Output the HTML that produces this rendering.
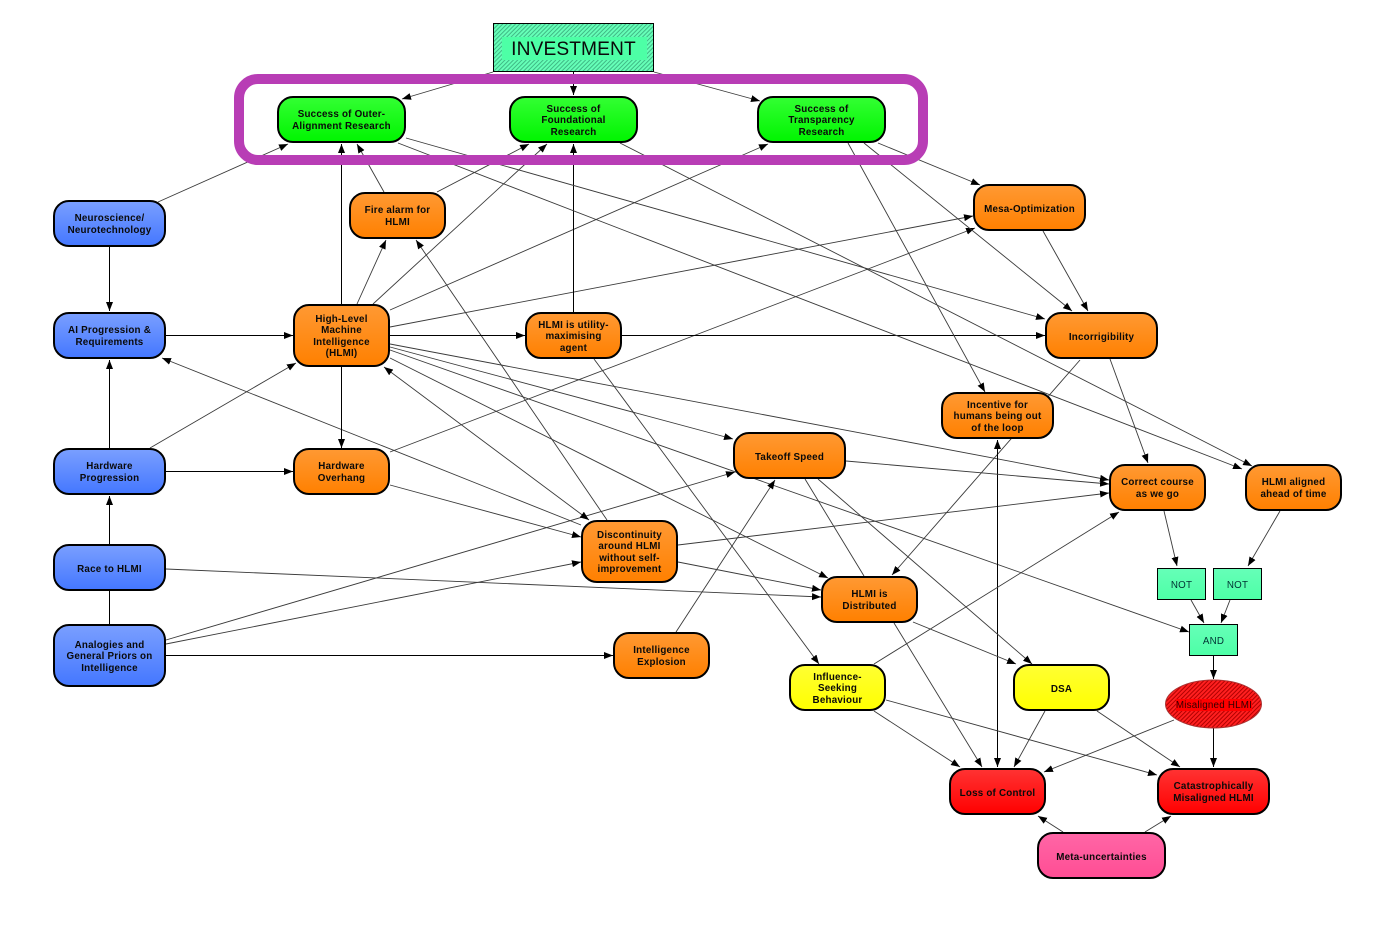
<!DOCTYPE html>
<html><head><meta charset="utf-8"><style>
html,body{margin:0;padding:0;background:#fff;width:1394px;height:925px;overflow:hidden}
svg{display:block}
text{font-family:"Liberation Sans",sans-serif;font-size:9.8px;font-weight:bold;letter-spacing:.22px;text-anchor:middle;fill:#0a0a0a}
.l line{stroke:#3a3a3a;stroke-width:.9;marker-end:url(#a)}
.o line{stroke:#000;stroke-width:1}
.n rect,.n ellipse{stroke:#000;stroke-width:2}
</style></head><body>
<svg width="1394" height="925" viewBox="0 0 1394 925" xmlns="http://www.w3.org/2000/svg">
<defs>
<marker id="a" markerUnits="userSpaceOnUse" markerWidth="11" markerHeight="9" refX="9" refY="4" orient="auto"><path d="M0 .5L9 4L0 7.5z" fill="#000"/></marker>
<marker id="s" markerUnits="userSpaceOnUse" markerWidth="11" markerHeight="9" refX="9" refY="4" orient="auto-start-reverse"><path d="M0 .5L9 4L0 7.5z" fill="#000"/></marker>
<linearGradient id="gb" x1="0" y1="0" x2="0" y2="1"><stop offset="0" stop-color="#7a9fff"/><stop offset="1" stop-color="#4477ff"/></linearGradient>
<linearGradient id="gg" x1="0" y1="0" x2="0" y2="1"><stop offset="0" stop-color="#33ff33"/><stop offset="1" stop-color="#00f500"/></linearGradient>
<linearGradient id="go" x1="0" y1="0" x2="0" y2="1"><stop offset="0" stop-color="#ff9933"/><stop offset="1" stop-color="#ff8000"/></linearGradient>
<linearGradient id="gy" x1="0" y1="0" x2="0" y2="1"><stop offset="0" stop-color="#ffff33"/><stop offset="1" stop-color="#ffff00"/></linearGradient>
<linearGradient id="gr" x1="0" y1="0" x2="0" y2="1"><stop offset="0" stop-color="#ff3333"/><stop offset="1" stop-color="#ff0000"/></linearGradient>
<linearGradient id="gp" x1="0" y1="0" x2="0" y2="1"><stop offset="0" stop-color="#ff66a6"/><stop offset="1" stop-color="#ff4d94"/></linearGradient>
<linearGradient id="gt" x1="0" y1="0" x2="0" y2="1"><stop offset="0" stop-color="#66ffb8"/><stop offset="1" stop-color="#4dffa6"/></linearGradient>
<pattern id="ht" width="3" height="3" patternUnits="userSpaceOnUse" patternTransform="rotate(45)"><rect width="3" height="3" fill="#66ffb8"/><rect width="1" height="3" fill="#3fb985"/></pattern>
<pattern id="hr" width="3" height="3" patternUnits="userSpaceOnUse" patternTransform="rotate(45)"><rect width="3" height="3" fill="#ff2020"/><rect width="1" height="3" fill="#b00000"/></pattern>
</defs>

<g class="l">
<line x1="493" y1="72" x2="402" y2="99"/>
<line class="k" x1="573.5" y1="72" x2="573.5" y2="95" style="stroke:#000;stroke-width:1"/>
<line x1="654" y1="72" x2="760" y2="101"/>
<line x1="158" y1="202" x2="288" y2="144"/>
<line x1="109.5" y1="247" x2="109.5" y2="311" style="stroke:#000;stroke-width:1"/>
<line x1="166" y1="335.5" x2="293" y2="335.5" style="stroke:#000;stroke-width:1"/>
<line x1="109.5" y1="448" x2="109.5" y2="360" style="stroke:#000;stroke-width:1"/>
<line x1="150" y1="448" x2="296" y2="363"/>
<line x1="166" y1="471.5" x2="293" y2="471.5" style="stroke:#000;stroke-width:1"/>
<line x1="109.5" y1="544" x2="109.5" y2="496" style="stroke:#000;stroke-width:1"/>
<line x1="109.5" y1="624" x2="109.5" y2="591" style="marker-end:none;stroke:#000;stroke-width:1"/>
<line x1="166" y1="569" x2="821" y2="597"/>
<line x1="166" y1="640" x2="735" y2="472"/>
<line x1="166" y1="644" x2="581" y2="562"/>
<line x1="166" y1="655.5" x2="613" y2="655.5" style="stroke:#000;stroke-width:1"/>
<line x1="581" y1="525" x2="162" y2="358"/>
<line x1="589" y1="520" x2="384" y2="367" style="marker-start:url(#s)"/>
<line x1="607" y1="520" x2="416" y2="240"/>
<line x1="678" y1="545" x2="1109" y2="493"/>
<line x1="678" y1="562" x2="821" y2="590"/>
<line x1="390" y1="485" x2="581" y2="537"/>
<line x1="390" y1="452" x2="975" y2="228"/>
<line x1="341.5" y1="304" x2="341.5" y2="144" style="stroke:#000;stroke-width:1"/>
<line x1="357" y1="304" x2="386" y2="240"/>
<line x1="373" y1="304" x2="547" y2="144"/>
<line x1="390" y1="310" x2="768" y2="144"/>
<line x1="390" y1="327" x2="973" y2="216"/>
<line x1="390" y1="335.5" x2="525" y2="335.5" style="stroke:#000;stroke-width:1"/>
<line x1="341.5" y1="367" x2="341.5" y2="448" style="stroke:#000;stroke-width:1"/>
<line x1="390" y1="347" x2="733" y2="439"/>
<line x1="390" y1="344" x2="1109" y2="480"/>
<line x1="390" y1="358" x2="828" y2="578"/>
<line x1="390" y1="350" x2="1189" y2="632"/>
<line x1="384" y1="192" x2="357" y2="144"/>
<line x1="437" y1="192" x2="529" y2="144"/>
<line x1="573.5" y1="312" x2="573.5" y2="144" style="stroke:#000;stroke-width:1"/>
<line x1="622" y1="335.5" x2="1045" y2="335.5" style="stroke:#000;stroke-width:1"/>
<line x1="594" y1="359" x2="819" y2="664"/>
<line x1="406" y1="138" x2="1045" y2="319"/>
<line x1="398" y1="143" x2="1242" y2="469"/>
<line x1="620" y1="143" x2="1252" y2="466"/>
<line x1="878" y1="143" x2="980" y2="185"/>
<line x1="864" y1="143" x2="1072" y2="311"/>
<line x1="848" y1="143" x2="985" y2="392"/>
<line x1="1043" y1="231" x2="1088" y2="311"/>
<line x1="1110" y1="359" x2="1148" y2="463"/>
<line x1="1080" y1="360" x2="892" y2="575"/>
<line x1="997.5" y1="440" x2="997.5" y2="767" style="marker-start:url(#s);stroke:#000;stroke-width:1"/>
<line x1="846" y1="461" x2="1109" y2="484"/>
<line x1="805" y1="479" x2="864" y2="576" style="marker-end:none"/>
<line x1="818" y1="479" x2="1032" y2="664"/>
<line x1="676" y1="632" x2="775" y2="480"/>
<line x1="874" y1="664" x2="1119" y2="512"/>
<line x1="874" y1="711" x2="960" y2="767"/>
<line x1="886" y1="700" x2="1157" y2="775"/>
<line x1="913" y1="622" x2="1016" y2="664"/>
<line x1="894" y1="623" x2="982" y2="767"/>
<line x1="1045" y1="711" x2="1014" y2="767"/>
<line x1="1097" y1="711" x2="1180" y2="767"/>
<line x1="1174" y1="720" x2="1044" y2="772"/>
<line x1="1213.5" y1="728" x2="1213.5" y2="767" style="stroke:#000;stroke-width:1"/>
<line x1="1213.5" y1="656" x2="1213.5" y2="679" style="stroke:#000;stroke-width:1"/>
<line x1="1191" y1="600" x2="1204" y2="623"/>
<line x1="1230" y1="600" x2="1221" y2="623"/>
<line x1="1164" y1="511" x2="1177" y2="566"/>
<line x1="1280" y1="511" x2="1248" y2="566"/>
<line x1="1063" y1="832" x2="1038" y2="816"/>
<line x1="1145" y1="832" x2="1171" y2="816"/>
</g>

<rect x="239" y="79" width="684" height="81" rx="19" fill="none" stroke="#b83db5" stroke-width="10"/>

<g class="n">
<rect x="493.5" y="23.5" width="160" height="48" fill="url(#ht)" style="stroke-width:1"/>
<rect x="502" y="37" width="145" height="23" fill="#4dffa6" style="stroke:none"/>
<rect x="278" y="97" width="127" height="45" rx="15" fill="url(#gg)"/>
<rect x="510" y="97" width="127" height="45" rx="15" fill="url(#gg)"/>
<rect x="758" y="97" width="127" height="45" rx="15" fill="url(#gg)"/>
<rect x="54" y="201" width="111" height="45" rx="15" fill="url(#gb)"/>
<rect x="54" y="313" width="111" height="45" rx="15" fill="url(#gb)"/>
<rect x="54" y="449" width="111" height="45" rx="15" fill="url(#gb)"/>
<rect x="54" y="545" width="111" height="45" rx="15" fill="url(#gb)"/>
<rect x="54" y="625" width="111" height="61" rx="15" fill="url(#gb)"/>
<rect x="350" y="193" width="95" height="45" rx="15" fill="url(#go)"/>
<rect x="294" y="305" width="95" height="61" rx="15" fill="url(#go)"/>
<rect x="526" y="313" width="95" height="45" rx="15" fill="url(#go)"/>
<rect x="294" y="449" width="95" height="45" rx="15" fill="url(#go)"/>
<rect x="974" y="185" width="111" height="45" rx="15" fill="url(#go)"/>
<rect x="1046" y="313" width="111" height="45" rx="15" fill="url(#go)"/>
<rect x="942" y="393" width="111" height="45" rx="15" fill="url(#go)"/>
<rect x="734" y="433" width="111" height="45" rx="15" fill="url(#go)"/>
<rect x="1110" y="465" width="95" height="45" rx="15" fill="url(#go)"/>
<rect x="1246" y="465" width="95" height="45" rx="15" fill="url(#go)"/>
<rect x="582" y="521" width="95" height="61" rx="15" fill="url(#go)"/>
<rect x="822" y="577" width="95" height="45" rx="15" fill="url(#go)"/>
<rect x="614" y="633" width="95" height="45" rx="15" fill="url(#go)"/>
<rect x="790" y="665" width="95" height="45" rx="15" fill="url(#gy)"/>
<rect x="1014" y="665" width="95" height="45" rx="15" fill="url(#gy)"/>
<rect x="950" y="769" width="95" height="45" rx="15" fill="url(#gr)"/>
<rect x="1158" y="769" width="111" height="45" rx="15" fill="url(#gr)"/>
<rect x="1038" y="833" width="127" height="45" rx="15" fill="url(#gp)"/>
<rect x="1157.5" y="568.5" width="48" height="31" fill="url(#gt)" style="stroke-width:1"/>
<rect x="1213.5" y="568.5" width="48" height="31" fill="url(#gt)" style="stroke-width:1"/>
<rect x="1189.5" y="624.5" width="48" height="31" fill="url(#gt)" style="stroke-width:1"/>
<ellipse cx="1213.5" cy="704" rx="48" ry="24" fill="url(#hr)" style="stroke:#a33;stroke-width:1"/>
<rect x="1176" y="699" width="76" height="12" fill="#ff0000" style="stroke:none"/>
</g>

<text x="573.5" y="55" style="font-size:19.2px;font-weight:normal;letter-spacing:.1px">INVESTMENT</text>
<text x="341.5" y="117">Success of Outer-</text><text x="341.5" y="129">Alignment Research</text>
<text x="573.5" y="112">Success of</text><text x="573.5" y="123">Foundational</text><text x="573.5" y="135">Research</text>
<text x="821.5" y="112">Success of</text><text x="821.5" y="123">Transparency</text><text x="821.5" y="135">Research</text>
<text x="109.5" y="221">Neuroscience/</text><text x="109.5" y="233">Neurotechnology</text>
<text x="109.5" y="333">AI Progression &amp;</text><text x="109.5" y="345">Requirements</text>
<text x="109.5" y="469">Hardware</text><text x="109.5" y="481">Progression</text>
<text x="109.5" y="572">Race to HLMI</text>
<text x="109.5" y="648">Analogies and</text><text x="109.5" y="659">General Priors on</text><text x="109.5" y="671">Intelligence</text>
<text x="397.5" y="213">Fire alarm for</text><text x="397.5" y="225">HLMI</text>
<text x="341.5" y="322">High-Level</text><text x="341.5" y="333">Machine</text><text x="341.5" y="345">Intelligence</text><text x="341.5" y="356">(HLMI)</text>
<text x="573.5" y="328">HLMI is utility-</text><text x="573.5" y="339">maximising</text><text x="573.5" y="351">agent</text>
<text x="341.5" y="469">Hardware</text><text x="341.5" y="481">Overhang</text>
<text x="1029.5" y="212">Mesa-Optimization</text>
<text x="1101.5" y="340">Incorrigibility</text>
<text x="997.5" y="408">Incentive for</text><text x="997.5" y="419">humans being out</text><text x="997.5" y="431">of the loop</text>
<text x="789.5" y="460">Takeoff Speed</text>
<text x="1157.5" y="485">Correct course</text><text x="1157.5" y="497">as we go</text>
<text x="1293.5" y="485">HLMI aligned</text><text x="1293.5" y="497">ahead of time</text>
<text x="629.5" y="538">Discontinuity</text><text x="629.5" y="549">around HLMI</text><text x="629.5" y="561">without self-</text><text x="629.5" y="572">improvement</text>
<text x="869.5" y="597">HLMI is</text><text x="869.5" y="609">Distributed</text>
<text x="661.5" y="653">Intelligence</text><text x="661.5" y="665">Explosion</text>
<text x="837.5" y="680">Influence-</text><text x="837.5" y="691">Seeking</text><text x="837.5" y="703">Behaviour</text>
<text x="1061.5" y="692">DSA</text>
<text x="997.5" y="796">Loss of Control</text>
<text x="1213.5" y="789">Catastrophically</text><text x="1213.5" y="801">Misaligned HLMI</text>
<text x="1101.5" y="860">Meta-uncertainties</text>
<text x="1181.5" y="588" style="font-weight:normal;fill:#033">NOT</text>
<text x="1237.5" y="588" style="font-weight:normal;fill:#033">NOT</text>
<text x="1213.5" y="644" style="font-weight:normal;fill:#033">AND</text>
<text x="1214" y="708" style="font-weight:normal;fill:#300">Misaligned HLMI</text>
</svg>
</body></html>
